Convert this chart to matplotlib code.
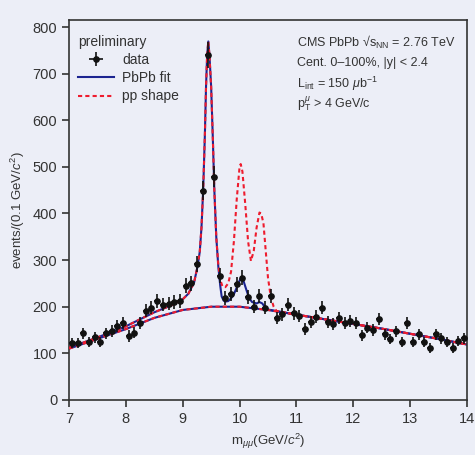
import numpy as np
import matplotlib.pyplot as plt

plt.rcParams['font.family'] = ['Liberation Sans', 'DejaVu Sans']
plt.rcParams['mathtext.fontset'] = 'custom'
plt.rcParams['mathtext.rm'] = 'Liberation Sans'
plt.rcParams['mathtext.it'] = 'Liberation Sans:italic'

# data points (0.1 GeV bins)
mass = [7.05, 7.15, 7.25, 7.35, 7.45, 7.55, 7.65, 7.75, 7.85, 7.95,
        8.05, 8.15, 8.25, 8.35, 8.45, 8.55, 8.65, 8.75, 8.85, 8.95,
        9.05, 9.15, 9.25, 9.35, 9.45, 9.55, 9.65, 9.75, 9.85, 9.95,
        10.05, 10.15, 10.25, 10.35, 10.45, 10.55, 10.65, 10.75, 10.85, 10.95,
        11.05, 11.15, 11.25, 11.35, 11.45, 11.55, 11.65, 11.75, 11.85, 11.95,
        12.05, 12.15, 12.25, 12.35, 12.45, 12.55, 12.65, 12.75, 12.85, 12.95,
        13.05, 13.15, 13.25, 13.35, 13.45, 13.55, 13.65, 13.75, 13.85, 13.95]
counts = [122, 122, 143, 124, 134, 124, 143, 148, 159, 165,
          137, 144, 166, 191, 198, 212, 204, 206, 211, 212,
          245, 250, 292, 449, 740, 479, 266, 218, 228, 248,
          262, 220, 200, 224, 198, 224, 175, 184, 204, 186,
          181, 152, 168, 179, 198, 167, 162, 175, 165, 170,
          165, 139, 155, 150, 173, 141, 131, 147, 125, 166,
          125, 141, 125, 111, 141, 132, 125, 111, 127, 132]
errors = [11, 11, 12, 11, 12, 11, 12, 12, 13, 13,
          12, 12, 13, 14, 14, 15, 14, 14, 15, 15,
          16, 16, 17, 21, 27, 22, 16, 15, 15, 16,
          16, 15, 14, 15, 14, 15, 13, 14, 14, 14,
          13, 12, 13, 13, 14, 13, 13, 13, 13, 13,
          13, 12, 12, 12, 13, 12, 11, 12, 11, 13,
          11, 12, 11, 11, 12, 11, 11, 11, 11, 11]

# background curve
bkg_x = [7.0, 7.5, 8.0, 8.5, 9.0, 9.5, 10.0, 10.5, 11.0, 11.5, 12.0, 12.5, 13.0, 13.5, 14.0]
bkg_y = [110, 131, 152, 176, 193, 200, 200, 193, 183, 173, 163, 153, 142, 131, 119]

# PbPb fit curve
fit_x = [7.0, 7.5, 8.0, 8.5, 8.8, 9.0, 9.1, 9.2, 9.26, 9.3, 9.33, 9.36, 9.39, 9.41,
         9.43, 9.45, 9.47, 9.5, 9.53, 9.556, 9.59, 9.626, 9.66, 9.685, 9.72, 9.75,
         9.8, 9.85, 9.9, 9.95, 10.0, 10.03, 10.07, 10.12, 10.17, 10.22, 10.3, 10.35,
         10.4, 10.45, 10.5, 11.0, 11.5, 12.0, 12.5, 13.0, 13.5, 14.0]
fit_y = [112, 134, 158, 188, 203, 216, 228, 252, 286, 318, 370, 451, 570, 672,
         740, 769, 740, 672, 560, 451, 350, 286, 245, 222, 213, 211,
         212, 218, 227, 241, 256, 262, 255, 236, 218, 210, 207, 210,
         207, 198, 194, 183, 173, 163, 153, 142, 131, 119]

# pp shape curve
pp_x = [7.0, 7.5, 8.0, 8.5, 8.8, 9.0, 9.1, 9.2, 9.26, 9.3, 9.33, 9.36, 9.39, 9.41,
        9.43, 9.45, 9.47, 9.5, 9.53, 9.556, 9.59, 9.626, 9.66, 9.7, 9.75, 9.8,
        9.85, 9.9, 9.95, 10.0, 10.02, 10.05, 10.1, 10.15, 10.2, 10.25, 10.3, 10.35,
        10.38, 10.42, 10.46, 10.5, 10.55, 10.6, 10.65, 11.0, 11.5, 12.0, 12.5,
        13.0, 13.5, 14.0]
pp_y = [112, 134, 158, 188, 203, 216, 228, 252, 286, 318, 370, 451, 570, 672,
        740, 769, 740, 672, 560, 451, 350, 290, 258, 243, 242, 250,
        275, 340, 430, 500, 506, 490, 420, 340, 298, 320, 370, 402,
        400, 379, 320, 262, 220, 200, 191, 183, 173, 163, 153,
        142, 131, 119]

bg = '#eceef7'
fig = plt.figure(figsize=(4.75, 4.55), dpi=100, facecolor=bg)
ax = fig.add_axes([0.1453, 0.121, 0.8378, 0.835], facecolor=bg)

blue = '#1c2490'
red = '#ee1c2e'
ax.plot(bkg_x, bkg_y, color=blue, lw=1.5, zorder=2)
ax.plot(fit_x, fit_y, color=blue, lw=1.5, zorder=2, label='PbPb fit')
ax.plot(bkg_x, bkg_y, color=red, lw=1.5, ls=(0, (2, 1.5)), zorder=3)
ax.plot(pp_x, pp_y, color=red, lw=1.5, ls=(0, (2, 1.5)), zorder=3, label='pp shape')
ax.errorbar(mass, counts, yerr=errors, xerr=0.05, fmt='o', color='#111111',
            ms=3.8, elinewidth=1.2, capsize=0, zorder=4, label='data')

ax.set_xlim(7, 14)
ax.set_ylim(0, 815)
ax.set_xticks(range(7, 15))
ax.set_yticks(range(0, 801, 100))
for s in ax.spines.values():
    s.set_color('#333333')
    s.set_linewidth(1.2)
ax.tick_params(direction='out', length=5, width=1.2, color='#333333',
               labelsize=10.5, labelcolor='#333333')

ax.set_xlabel(r'm$_{\mu\mu}$(GeV/$c^2$)', fontsize=9.5, color='#333333')
ax.set_ylabel(r'events/(0.1 GeV/$c^2$)', fontsize=9.5, color='#333333')

h, l = ax.get_legend_handles_labels()
order = [2, 0, 1]
leg = ax.legend([h[i] for i in order], [l[i] for i in order], loc='upper left',
                bbox_to_anchor=(0.005, 0.979),
                title='preliminary', frameon=False, fontsize=10,
                title_fontsize=10, alignment='left', handlelength=2.6,
                handletextpad=0.6, borderaxespad=0.3, borderpad=0.2,
                labelspacing=0.3)
for t in leg.get_texts():
    t.set_color('#333333')
leg.get_title().set_color('#333333')

info = ['CMS PbPb √s$_{\\rm NN}$ = 2.76 TeV',
        'Cent. 0–100%, |y| < 2.4',
        r'L$_{\rm int}$ = 150 $\mu$b$^{-1}$',
        r'p$_{\rm T}^{\mu}$ > 4 GeV/c']
for i, s in enumerate(info):
    ax.text(0.574, 0.94 - i * 0.054, s, transform=ax.transAxes, fontsize=9,
            color='#333333', va='center', ha='left')

fig.savefig('out.png', dpi=100, facecolor=bg)
